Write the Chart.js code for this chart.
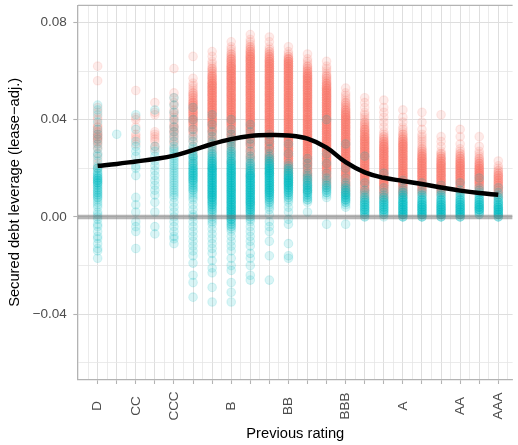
<!DOCTYPE html>
<html><head><meta charset="utf-8">
<script src="https://cdn.jsdelivr.net/npm/chart.js@4"></script>
<style>
html,body{margin:0;padding:0;background:#fff;overflow:hidden;width:518px;height:445px}
canvas{display:block}
</style>
</head><body><canvas id="c" width="518" height="445" style="width:518px;height:445px"></canvas>
<script>
// ---- categories / labels ----
const ratings = ['D','C','CC','CCC-','CCC','CCC+','B-','B','B+','BB-','BB','BB+','BBB-','BBB','BBB+','A-','A','A+','AA-','AA','AA+','AAA'];
const shownRatingLabels = ['D','CC','CCC','B','BB','BBB','A','AA','AAA'];
const yGridValues = [-0.06,-0.04,-0.02,0,0.02,0.04,0.06,0.08];
const yTickLabels = {'0.08':'0.08','0.04':'0.04','0':'0.00','-0.04':'\u22120.04'};
const xTitle = 'Previous rating';
const yTitle = 'Secured debt leverage (lease\u2212adj.)';

// ---- observations per rating, binned at 0.001 ----
// top bin of each rating (in thousandths); each digit = number of observations
// in successive 0.001 bins going down from the top bin
const redTop  = [62,0,52,47,61,66,68,72,75,74,70,67,64,53,49,48,44,43,42,36,33,23];
const redBins = [
 "1000001000 0000000101 0110121223 2211101010 101",
 "",
 "1000000000 0110010011 101",
 "1000110000 0011111011",
 "1000000000 1010110111 1111212111 1101",
 "1000000001 0111122223 3333333322 2211110101 01001",
 "1010111222 3334444444 4444444444 4333222211 111010101",
 "1011122333 4444444444 4444444444 4444433333 2222111101 1",
 "1011122334 4444444444 4444444444 4444444444 3333332222 221111101",
 "1010112233 4444444444 4444444444 4444444444 4444444333 3221101",
 "1011234444 4444444444 4444444444 4444444444 4444444433 3221101",
 "1011122334 4444444444 4444444444 4444444444 4444444333 3221101",
 "1011112223 3444444444 4444444444 4444444444 4444443332 211",
 "1011112223 3444444444 4444444444 4444444333 32211",
 "1010101111 2223334444 4444444444 4444443332 211",
 "1001010101 0101122334 4444444444 4444443332 21",
 "1001010111 2233444444 4444444444 4433321",
 "1000100101 1111122334 4444444444 43321",
 "1000000001 0101012233 4444444444 4321",
 "1001001011 2233444444 4443321",
 "1000101112 2334444444 3321",
 "1011223333 333221"
];
const tealTop  = [46,34,42,44,49,45,42,40,38,34,30,24,40,30,25,18,15,14,13,14,16,12];
const tealBins = [
 "1010100100 1010101010 1101012122 3332222221 1110111101 1010110101 1001",
 "1",
 "1000001000 0101010100 0110010000 0000100100 1000101010 000001",
 "1000000000 0000010101 0101010101 0101010010 0010000010 01",
 "1001001001 0010101010 1111111111 1111111111 1101010101 0101010110 1",
 "1000010001 0010101111 2222233333 3222211110 1010110101 0101010101 0100100001 001000001",
 "1000100101 0111112223 3344444444 4444433322 2111110101 0101010100 1001010000 01000001",
 "1000101011 1112222333 4444444444 4444444444 3322211010 1010100100 1010000100 010001",
 "1001001010 0101112223 3444444444 4444333221 1010101010 1001010010 00101",
 "1001001011 2233444444 4444433221 1101001010 1000100000 1000000000 1",
 "1000100011 2233444443 3221101010 0101000000 01000011",
 "1010101122 2333322210 001",
 "1000000000 0000100010 0010111222 2110000000 0001",
 "1000000000 1000101122 3333211000 0001",
 "1000000000 0100111223 333322",
 "1000001011 223333321",
 "1001122334 444443",
 "1001122334 44443",
 "1011223344 4443",
 "1001122334 44443",
 "1000111223 344432",
 "1011223344 443"
];
// smoothed fit, one value per rating
const smoothFit = [0.0210,0.0218,0.0228,0.0238,0.0252,0.0275,0.0300,0.0320,0.0333,0.0337,0.0335,0.0322,0.0285,0.0225,0.0183,0.0161,0.0148,0.0135,0.0121,0.0108,0.0098,0.0091];
const zeroLineValue = 0;

// ---- build ----
function expandBins(tops, bins){
  const pts=[];
  bins.forEach((s,i)=>{
    const d=s.replace(/\s/g,'');
    for(let j=0;j<d.length;j++){
      const n=+d[j];
      for(let k=0;k<n;k++) pts.push({x:i, y:(tops[i]-j)/1000});
    }
  });
  return pts;
}
const isInt = v => Math.abs(v-Math.round(v))<1e-9;
const isMajorY = v => Math.abs(v/0.04-Math.round(v/0.04))<1e-6;
const X_MIN=-1.03, X_MAX=21.75;

Chart.defaults.font.family = '"Liberation Sans", Arial, sans-serif';

const panelPlugin = {
  id:'panel',
  afterDraw(chart){
    const {ctx, chartArea:a, scales:{x}} = chart;
    ctx.save();
    ctx.strokeStyle='#b3b3b3'; ctx.lineWidth=1.3;
    ctx.beginPath(); ctx.moveTo(a.left, a.top); ctx.lineTo(a.right, a.top); ctx.stroke();
    ctx.fillStyle='#4d4d4d';
    ctx.font='13.5px "Liberation Sans", Arial, sans-serif';
    ctx.textAlign='center'; ctx.textBaseline='middle';
    ratings.forEach((r,i)=>{
      if(!shownRatingLabels.includes(r)) return;
      const px = x.getPixelForValue(i);
      ctx.save(); ctx.translate(px, 406); ctx.rotate(-Math.PI/2);
      ctx.fillText(r,0,0); ctx.restore();
    });
    ctx.restore();
  }
};

new Chart(document.getElementById('c'), {
  type:'scatter',
  data:{datasets:[
    {type:'line', data: smoothFit.map((v,i)=>({x:i,y:v})), borderColor:'#000', borderWidth:4.5,
     pointRadius:0, tension:0.4, fill:false, order:0},
    {type:'line', data:[{x:X_MIN,y:zeroLineValue},{x:X_MAX,y:zeroLineValue}], borderColor:'rgba(110,110,110,0.5)',
     borderWidth:4.5, pointRadius:0, fill:false, order:1},
    {data: expandBins(tealTop, tealBins), backgroundColor:'rgba(0,191,196,0.15)', borderColor:'rgba(0,191,196,0.15)',
     borderWidth:1.1, pointRadius:4.3, order:2},
    {data: expandBins(redTop, redBins), backgroundColor:'rgba(248,118,109,0.15)', borderColor:'rgba(248,118,109,0.15)',
     borderWidth:1.1, pointRadius:4.3, order:3}
  ]},
  options:{
    responsive:false, animation:false, devicePixelRatio:1, events:[],
    plugins:{legend:{display:false}, tooltip:{enabled:false}},
    layout:{padding:{top:4.7,left:0,right:0,bottom:0}},
    scales:{
      x:{type:'linear', min:X_MIN, max:X_MAX,
        afterBuildTicks:s=>{const t=[]; for(let k=-1;k<=43;k++) t.push({value:k/2}); s.ticks=t;},
        afterFit:s=>{s.height=65.7; s.paddingLeft=0; s.paddingRight=0;},
        ticks:{display:false},
        grid:{color:c=>isInt(c.tick.value)?'#dedede':'#e6e6e6', lineWidth:c=>isInt(c.tick.value)?1:0.8,
              drawTicks:true, tickLength:4.7, tickWidth:1.1,
              tickColor:c=>(isInt(c.tick.value)&&c.tick.value>=0&&c.tick.value<=21)?'#b3b3b3':'rgba(0,0,0,0)'},
        border:{display:true, color:'#b3b3b3', width:1.3},
        title:{display:true, text:xTitle, color:'#000', font:{size:14.7}, padding:{top:0,bottom:2.2}}
      },
      y:{type:'linear', min:-0.0668, max:0.087,
        afterBuildTicks:s=>{s.ticks=yGridValues.map(v=>({value:v}));},
        afterFit:s=>{s.width=78; s.paddingTop=0; s.paddingBottom=0;},
        ticks:{autoSkip:false, color:'#4d4d4d', font:{size:13.5}, padding:6.5,
               callback:v=>{const k=String(Math.round(v*100)/100); return isMajorY(v)?(yTickLabels[k]||''):'';}},
        grid:{color:c=>isMajorY(c.tick.value)?'#dedede':'#e6e6e6', lineWidth:c=>isMajorY(c.tick.value)?1:0.8,
              drawTicks:true, tickLength:4.7, tickWidth:1.1,
              tickColor:c=>isMajorY(c.tick.value)?'#b3b3b3':'rgba(0,0,0,0)'},
        border:{display:true, color:'#b3b3b3', width:1.3},
        title:{display:true, text:yTitle, color:'#000', font:{size:14.7}, padding:{top:6.5,bottom:0}}
      }
    }
  },
  plugins:[panelPlugin]
});
</script>
</body></html>
